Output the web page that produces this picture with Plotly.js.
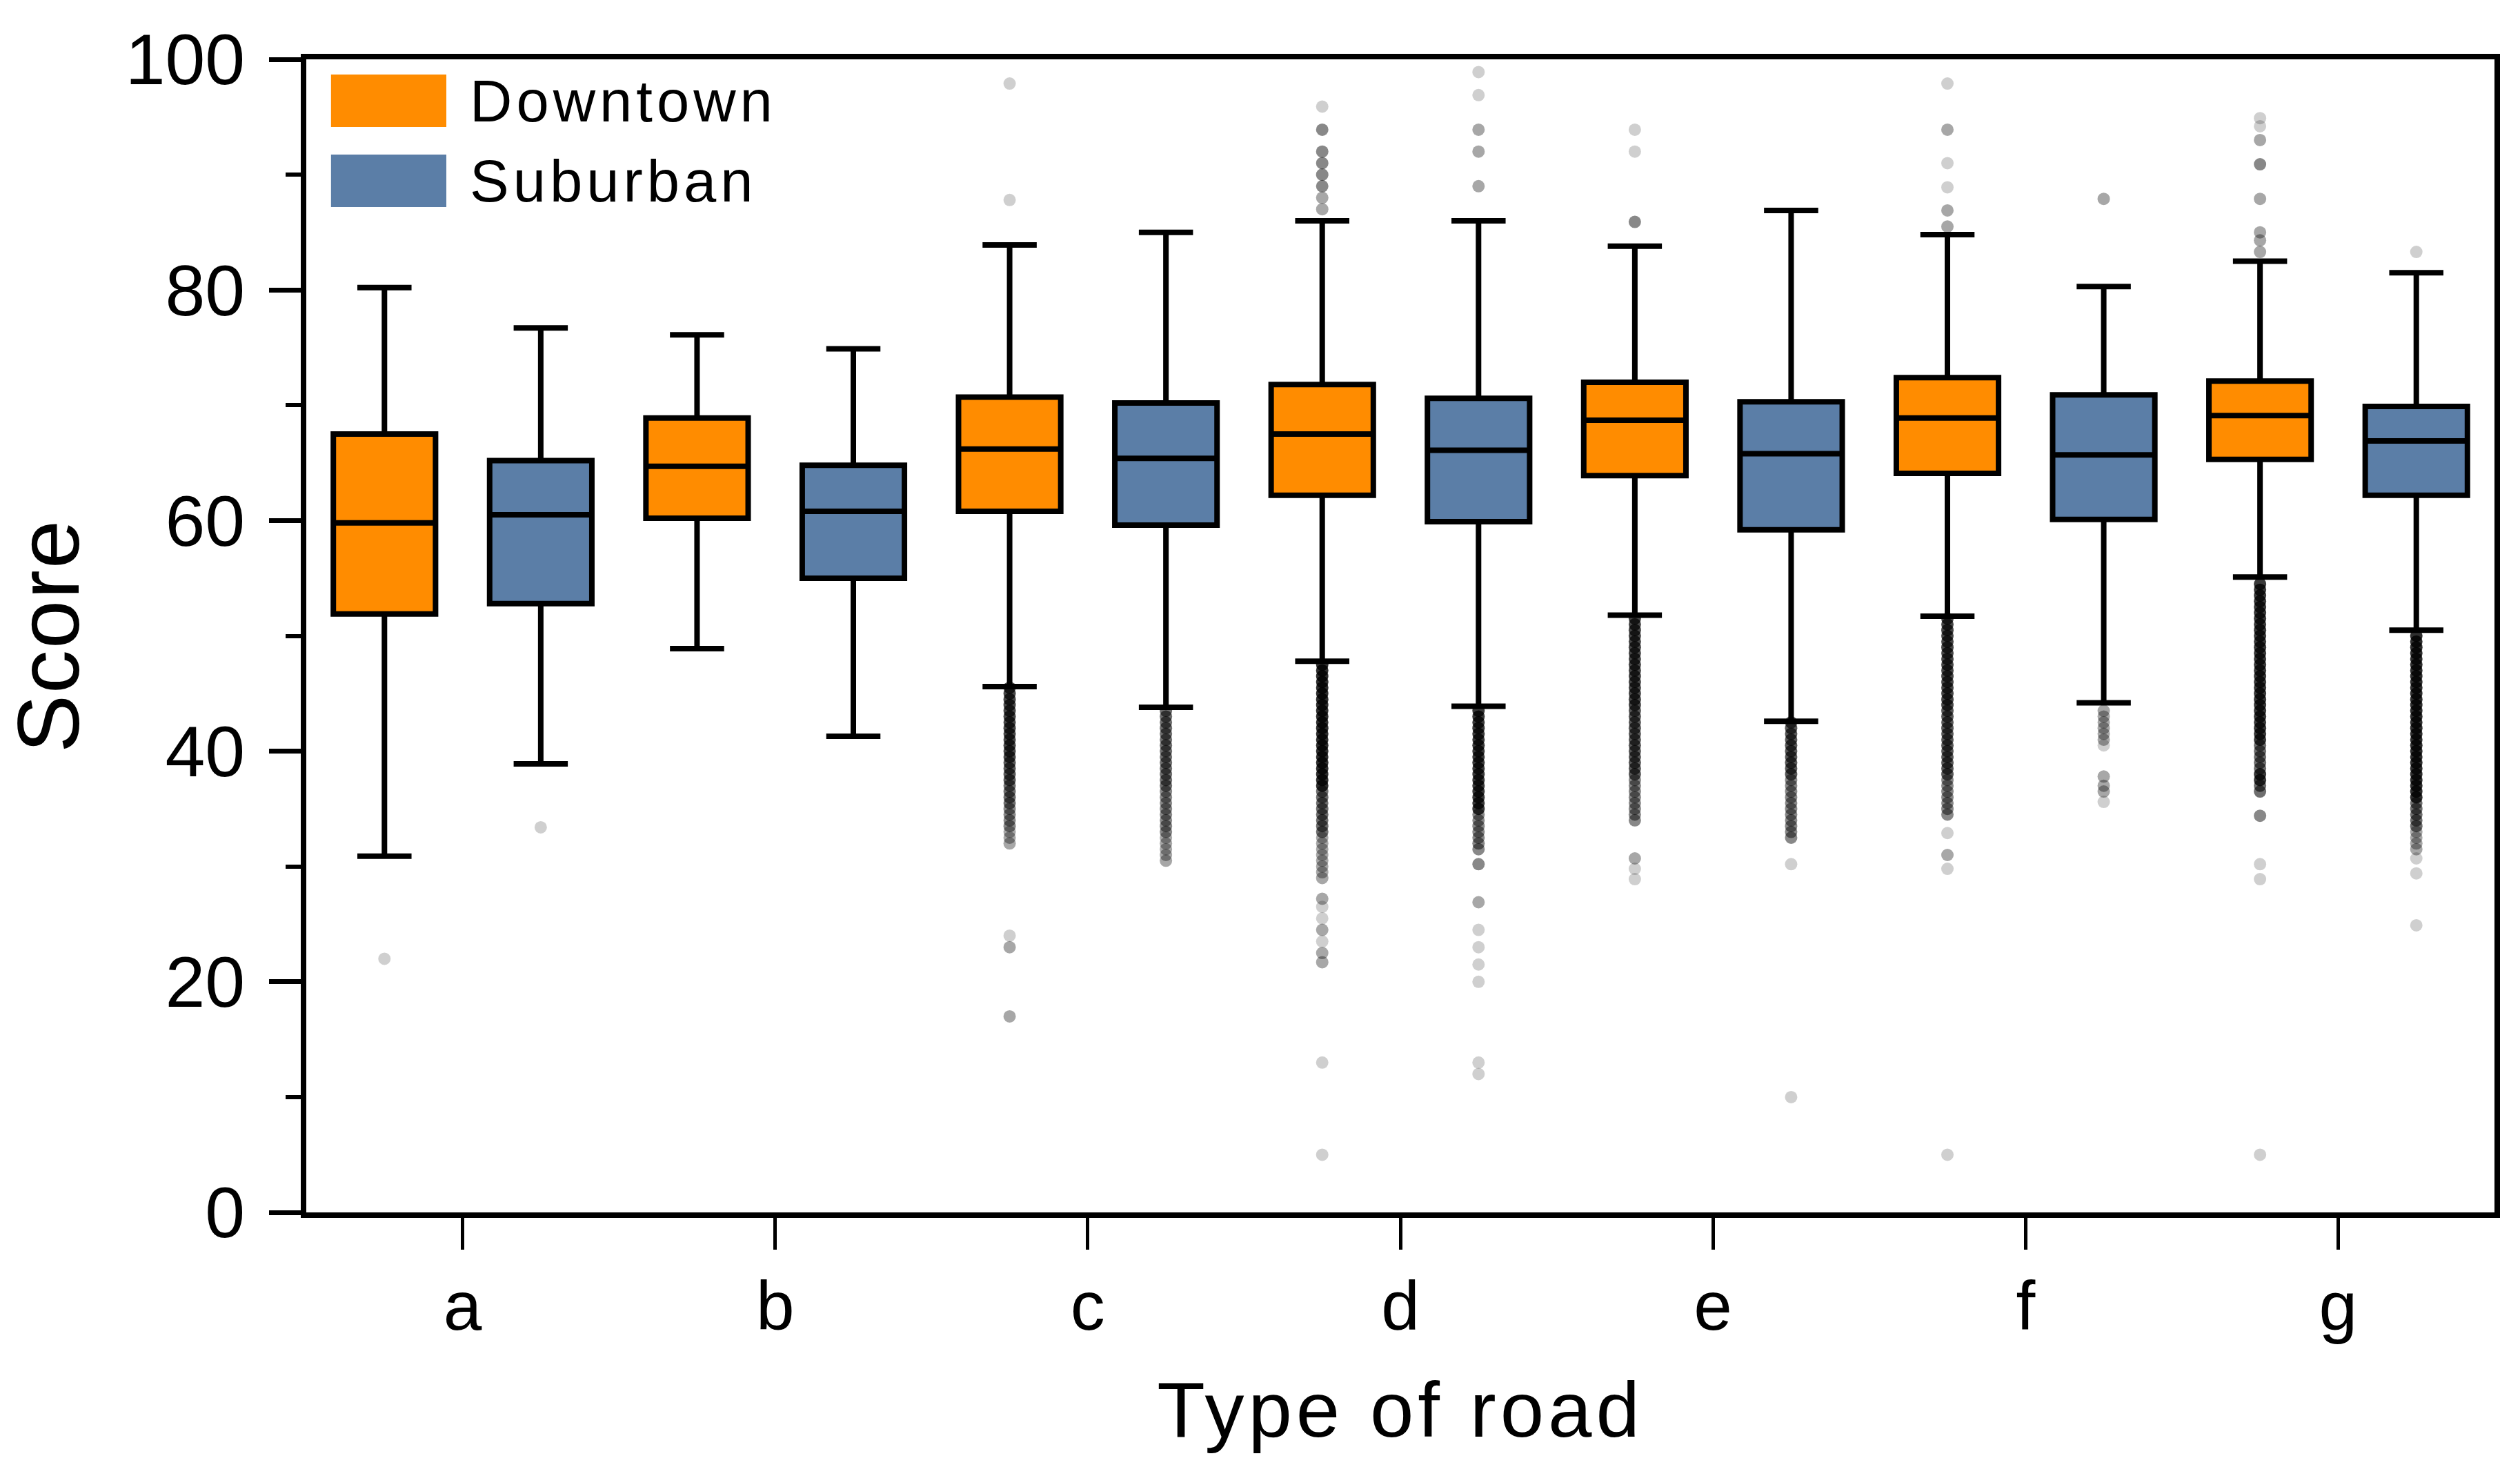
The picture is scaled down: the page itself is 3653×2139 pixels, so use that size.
<!DOCTYPE html>
<html>
<head>
<meta charset="utf-8">
<script src="https://cdn.plot.ly/plotly-3.0.1.min.js"></script>
<style>
  html, body { margin: 0; padding: 0; background: #ffffff; }
  #chart { width: 3653px; height: 2139px; }
  .xtitle { letter-spacing: 6px; }
  .ytitle { letter-spacing: 2px; }
  .annotation-text { letter-spacing: 6px; }
</style>
</head>
<body>
<div id="chart"></div>
<script>
// ---------------- DATA ----------------
var categories = ['a', 'b', 'c', 'd', 'e', 'f', 'g'];
var seriesNames = ['Downtown', 'Suburban'];

var downtownUpper  = [80.2, 76.1, 83.9, 86.0, 83.8, 84.8, 82.5];
var downtownQ3     = [67.5, 68.9, 70.7, 71.8, 72.0, 72.4, 72.1];
var downtownMedian = [59.8, 64.7, 66.2, 67.5, 68.7, 68.9, 69.1];
var downtownQ1     = [51.9, 60.2, 60.8, 62.2, 63.9, 64.1, 65.3];
var downtownLower  = [30.9, 48.9, 45.6, 47.8, 51.8, 51.7, 55.1];

var suburbanUpper  = [76.7, 74.9, 85.0, 86.0, 86.9, 80.3, 81.5];
var suburbanQ3     = [65.2, 64.8, 70.2, 70.6, 70.3, 70.9, 69.9];
var suburbanMedian = [60.5, 60.8, 65.4, 66.1, 65.8, 65.7, 66.9];
var suburbanQ1     = [52.8, 55.0, 59.6, 59.9, 59.2, 60.1, 62.2];
var suburbanLower  = [38.9, 41.3, 43.8, 43.9, 42.6, 44.2, 50.5];

// outlier values per category, with how many observations sit at each value
var downtownOutliers = [
  [22],
  [],
  [97.9, 87.8, 45.5, 45, 44.5, 44, 43.5, 43, 42.5, 42, 41.5, 41, 40.5, 40, 39.5, 39, 38.5, 38, 37.5, 37, 36.5, 36, 35.5, 35, 34.5, 34, 33.5, 33, 32.5, 32, 24, 23, 17],
  [95.9, 93.9, 92, 91, 90, 89, 88, 87, 47.5, 47, 46.5, 46, 45.5, 45, 44.5, 44, 43.5, 43, 42.5, 42, 41.5, 41, 40.5, 40, 39.5, 39, 38.5, 38, 37.5, 37, 36.5, 36, 35.5, 35, 34.5, 34, 33.5, 33, 32.5, 32, 31.5, 31, 30.5, 30, 29.5, 29, 27.2, 26.5, 25.5, 24.5, 23.5, 22.5, 21.7, 13, 5],
  [93.9, 92, 85.9, 51.5, 51, 50.5, 50, 49.5, 49, 48.5, 48, 47.5, 47, 46.5, 46, 45.5, 45, 44.5, 44, 43.5, 43, 42.5, 42, 41.5, 41, 40.5, 40, 39.5, 39, 38.5, 38, 37.5, 37, 36.5, 36, 35.5, 35, 34.5, 34, 30.7, 29.8, 28.9],
  [97.9, 93.9, 91, 88.9, 86.9, 85.5, 51.5, 51, 50.5, 50, 49.5, 49, 48.5, 48, 47.5, 47, 46.5, 46, 45.5, 45, 44.5, 44, 43.5, 43, 42.5, 42, 41.5, 41, 40.5, 40, 39.5, 39, 38.5, 38, 37.5, 37, 36.5, 36, 35.5, 35, 34.5, 32.9, 31, 29.8, 5],
  [94.9, 94.2, 93, 90.9, 87.9, 85, 84.3, 83.3, 54.5, 54, 53.5, 53, 52.5, 52, 51.5, 51, 50.5, 50, 49.5, 49, 48.5, 48, 47.5, 47, 46.5, 46, 45.5, 45, 44.5, 44, 43.5, 43, 42.5, 42, 41.5, 41, 40.5, 40, 39.5, 39, 38.5, 38, 37.5, 37, 36.5, 34.4, 30.2, 28.9, 5]
];
var downtownOutlierCounts = [
  [1],
  [],
  [1, 1, 6, 6, 6, 6, 6, 6, 6, 6, 6, 6, 6, 6, 6, 5, 5, 5, 5, 4, 4, 4, 4, 3, 3, 3, 3, 2, 2, 2, 1, 2, 2],
  [1, 3, 3, 3, 3, 3, 2, 2, 8, 8, 8, 8, 8, 8, 8, 8, 8, 8, 8, 8, 8, 8, 8, 8, 8, 8, 8, 8, 8, 8, 4, 4, 4, 4, 4, 4, 4, 4, 2, 2, 2, 2, 2, 2, 2, 2, 2, 1, 1, 2, 1, 2, 2, 1, 1],
  [1, 1, 3, 6, 6, 6, 6, 6, 6, 6, 6, 6, 6, 6, 6, 6, 6, 6, 6, 5, 5, 5, 5, 5, 5, 5, 5, 5, 5, 5, 5, 3, 3, 3, 3, 3, 3, 3, 3, 2, 1, 1],
  [1, 2, 1, 1, 2, 2, 6, 6, 6, 6, 6, 6, 6, 6, 6, 6, 6, 6, 6, 6, 6, 6, 5, 5, 5, 5, 5, 5, 5, 5, 5, 5, 5, 5, 3, 3, 3, 3, 3, 3, 3, 1, 2, 1, 1],
  [1, 1, 2, 3, 2, 2, 2, 2, 7, 7, 7, 7, 7, 7, 7, 7, 7, 7, 7, 7, 7, 7, 7, 7, 7, 7, 7, 7, 7, 7, 7, 7, 7, 7, 7, 7, 4, 4, 4, 4, 4, 7, 7, 4, 4, 3, 1, 1, 1]
];

var suburbanOutliers = [
  [33.4],
  [],
  [43.5, 43, 42.5, 42, 41.5, 41, 40.5, 40, 39.5, 39, 38.5, 38, 37.5, 37, 36.5, 36, 35.5, 35, 34.5, 34, 33.5, 33, 32.5, 32, 31.5, 31, 30.5],
  [98.9, 96.9, 93.9, 92, 89, 43.5, 43, 42.5, 42, 41.5, 41, 40.5, 40, 39.5, 39, 38.5, 38, 37.5, 37, 36.5, 36, 35.5, 35, 34.5, 34, 33.5, 33, 32.5, 32, 31.5, 30.2, 26.9, 24.5, 23, 21.5, 20, 13, 12],
  [42.5, 42, 41.5, 41, 40.5, 40, 39.5, 39, 38.5, 38, 37.5, 37, 36.5, 36, 35.5, 35, 34.5, 34, 33.5, 33, 32.5, 30.2, 10],
  [87.9, 43.5, 43, 42.5, 42, 41.5, 41, 40.5, 37.8, 37, 36.5, 35.6],
  [83.3, 50, 49.5, 49, 48.5, 48, 47.5, 47, 46.5, 46, 45.5, 45, 44.5, 44, 43.5, 43, 42.5, 42, 41.5, 41, 40.5, 40, 39.5, 39, 38.5, 38, 37.5, 37, 36.5, 36, 35.5, 35, 34.5, 34, 33.5, 33, 32.5, 32, 31.5, 30.7, 29.4, 24.9]
];
var suburbanOutlierCounts = [
  [1],
  [],
  [4, 4, 4, 4, 4, 4, 4, 4, 4, 4, 4, 4, 4, 4, 3, 3, 3, 3, 3, 3, 3, 3, 2, 2, 2, 2, 2],
  [1, 1, 2, 2, 2, 7, 7, 7, 7, 7, 7, 7, 7, 7, 7, 7, 7, 7, 7, 7, 7, 7, 7, 3, 3, 3, 3, 3, 3, 3, 3, 2, 1, 1, 1, 1, 1, 1],
  [5, 5, 5, 5, 5, 5, 5, 5, 5, 5, 3, 3, 3, 3, 3, 3, 3, 3, 3, 3, 3, 1, 1],
  [2, 2, 2, 2, 2, 2, 2, 1, 2, 2, 2, 1],
  [1, 8, 8, 8, 8, 8, 8, 8, 8, 8, 8, 8, 8, 8, 8, 8, 8, 8, 8, 8, 8, 8, 8, 8, 8, 8, 8, 8, 8, 8, 4, 4, 4, 4, 4, 2, 2, 2, 2, 1, 1, 1]
];

// ---------------- STYLE ----------------
var FONT = 'Liberation Sans, Arial, Helvetica, sans-serif';
var ORANGE = '#FF8C00';
var BLUE = '#5B7EA7';
var OFFSET = 0.25;       // half distance between paired boxes (category units)
var BOX_W = 0.327;       // box width in category units
var POINT_ALPHA = 0.19;  // opacity of one outlier observation

var catIdx = categories.map(function (c, i) { return i; });

function boxTrace(name, shift, q1, med, q3, lo, hi, color) {
  return {
    type: 'box',
    name: name,
    x: catIdx.map(function (i) { return i + shift; }),
    q1: q1, median: med, q3: q3, lowerfence: lo, upperfence: hi,
    width: BOX_W,
    whiskerwidth: 0.53,
    boxpoints: false,
    fillcolor: color,
    line: { color: '#000000', width: 8 },
    showlegend: false,
    hoverinfo: 'skip'
  };
}

function outlierTrace(shift, vals, counts) {
  var xs = [], ys = [], op = [];
  vals.forEach(function (arr, i) {
    arr.forEach(function (v, j) {
      xs.push(i + shift);
      ys.push(v);
      op.push(1 - Math.pow(1 - POINT_ALPHA, counts[i][j]));
    });
  });
  return {
    type: 'scatter', mode: 'markers', x: xs, y: ys,
    marker: { color: '#000000', size: 18, opacity: op, line: { width: 0 } },
    showlegend: false, hoverinfo: 'skip'
  };
}

var traces = [
  boxTrace(seriesNames[0], -OFFSET, downtownQ1, downtownMedian, downtownQ3, downtownLower, downtownUpper, ORANGE),
  boxTrace(seriesNames[1], OFFSET, suburbanQ1, suburbanMedian, suburbanQ3, suburbanLower, suburbanUpper, BLUE),
  outlierTrace(-OFFSET, downtownOutliers, downtownOutlierCounts),
  outlierTrace(OFFSET, suburbanOutliers, suburbanOutlierCounts)
];

var layout = {
  width: 3653, height: 2139,
  margin: { l: 444, r: 37, t: 86, b: 382, pad: 0 },
  paper_bgcolor: '#ffffff', plot_bgcolor: '#ffffff',
  font: { family: FONT, color: '#000000' },
  showlegend: false,
  boxmode: 'overlay',
  xaxis: {
    range: [-0.5, 6.5],
    tickmode: 'array', tickvals: catIdx, ticktext: categories,
    ticks: 'outside', ticklen: 46, tickwidth: 5, tickcolor: '#000000',
    showline: true, linewidth: 8, linecolor: '#000000', mirror: true,
    showgrid: false, zeroline: false,
    tickfont: { size: 100, family: FONT },
    ticklabelstandoff: -4,
    title: { text: 'Type of road', font: { size: 114, family: FONT }, standoff: 58 }
  },
  yaxis: {
    range: [0, 100],
    tickmode: 'linear', tick0: 0, dtick: 20,
    ticks: 'outside', ticklen: 46, tickwidth: 7, tickcolor: '#000000',
    minor: { dtick: 10, ticks: 'outside', ticklen: 22, tickwidth: 6, tickcolor: '#000000' },
    showline: true, linewidth: 8, linecolor: '#000000', mirror: true,
    showgrid: false, zeroline: false,
    tickfont: { size: 104, family: FONT },
    ticklabelstandoff: 14,
    title: { text: 'Score', font: { size: 126, family: FONT }, standoff: 36 }
  },
  shapes: [
    { type: 'rect', xref: 'paper', yref: 'paper', x0: 0.0113, x1: 0.064, y0: 0.9413, y1: 0.9868,
      fillcolor: ORANGE, line: { width: 0 } },
    { type: 'rect', xref: 'paper', yref: 'paper', x0: 0.0113, x1: 0.064, y0: 0.8719, y1: 0.9174,
      fillcolor: BLUE, line: { width: 0 } }
  ],
  annotations: [
    { xref: 'paper', yref: 'paper', x: 0.0742, y: 0.9640, xanchor: 'left', yanchor: 'middle',
      text: seriesNames[0], showarrow: false, font: { size: 85, family: FONT, color: '#000000' } },
    { xref: 'paper', yref: 'paper', x: 0.0742, y: 0.8946, xanchor: 'left', yanchor: 'middle',
      text: seriesNames[1], showarrow: false, font: { size: 85, family: FONT, color: '#000000' } }
  ]
};

Plotly.newPlot('chart', traces, layout, { staticPlot: true, displayModeBar: false });
</script>
</body>
</html>
